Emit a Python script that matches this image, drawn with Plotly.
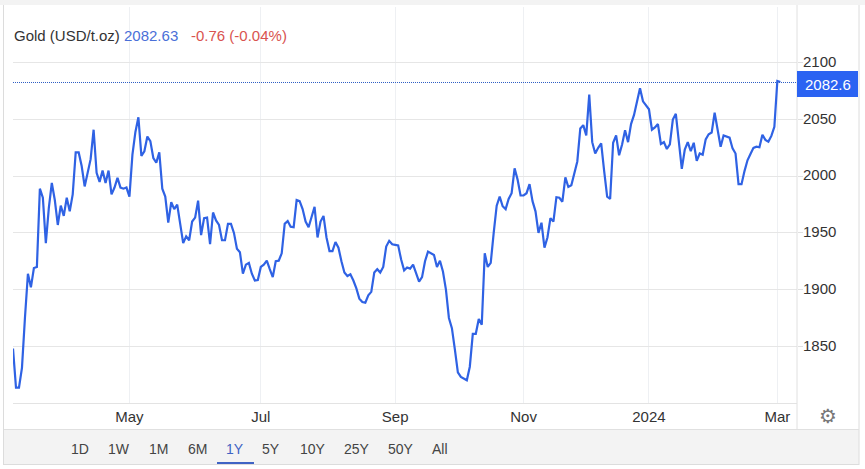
import pandas as pd
import plotly.graph_objects as go

W, H = 865, 469
L, R, T, B = 13, 797, 7, 403

SERIES_NAME = "Gold (USD/t.oz)"
LAST_TEXT = "2082.63"
CHANGE_TEXT = "-0.76 (-0.04%)"
LAST_VALUE = 2082.63
LAST_LABEL = "2082.6"
START_DATE = "2023-03-07"
END_DATE = "2024-03-04"
HOLIDAYS = ["2023-12-25", "2024-01-01"]
Y_TICKS = [1850, 1900, 1950, 2000, 2050, 2100]
X_TICKS = ["2023-05-01", "2023-06-30", "2023-09-01", "2023-11-01", "2024-01-02", "2024-03-01"]
X_LABELS = ["May", "Jul", "Sep", "Nov", "2024", "Mar"]
RANGE_BUTTONS = ["1D", "1W", "1M", "6M", "1Y", "5Y", "10Y", "25Y", "50Y", "All"]
BUTTON_X = [80, 119, 158, 197, 235, 271, 313, 357, 401, 440]

prices = [
    1848, 1813.5, 1813.5, 1831, 1875, 1914, 1902, 1919, 1920, 1989,
    1981, 1941, 1972, 1994, 1979, 1957, 1974, 1965, 1981, 1969,
    1984, 2021, 2021, 2009, 1991, 2003, 2015, 2041, 2003, 1995,
    2005, 1994, 2005, 1984, 1990, 1998.5, 1990, 1989, 1990, 1982,
    2019, 2039, 2052, 2018, 2022, 2035, 2031, 2016, 2012, 2021,
    1989, 1982, 1959, 1977, 1971, 1975, 1957, 1941, 1947, 1943.5,
    1960, 1963.5, 1978.5, 1948, 1963, 1963.5, 1940, 1968, 1961, 1957,
    1943.5, 1943.5, 1958, 1958, 1950, 1936, 1933, 1914, 1922, 1923.5,
    1914, 1908, 1908.5, 1920, 1922, 1925.5, 1918, 1911, 1925, 1925.5,
    1932, 1958, 1960.5, 1955.5, 1955, 1979, 1978, 1971, 1960, 1955,
    1964, 1973, 1946, 1960, 1965, 1946, 1934, 1934, 1942, 1937,
    1925, 1915, 1912, 1913.5, 1908, 1901, 1892, 1889, 1888.5, 1895,
    1898, 1915, 1918, 1915, 1920, 1938, 1943, 1940, 1939.5, 1939,
    1926.5, 1917, 1919.5, 1918.5, 1922, 1914, 1907, 1911, 1925, 1933.5,
    1932, 1930.5, 1920, 1925.5, 1916, 1900, 1875, 1866, 1847, 1827,
    1823, 1821.5, 1820, 1832, 1861, 1861, 1874, 1869, 1932, 1920,
    1923.5, 1950, 1974, 1982, 1973.5, 1971, 1980, 1985, 2007, 1997,
    1983, 1983, 1985, 1993, 1978, 1969, 1950, 1959, 1937, 1946,
    1963, 1960, 1981.5, 1981, 1977.5, 1999, 1990.5, 1992, 2001.5, 2013,
    2042, 2045, 2036, 2072, 2030, 2020, 2025, 2029, 2004.5, 1982,
    1980, 2029.5, 2036, 2018.5, 2028, 2040.5, 2030, 2046, 2054, 2067,
    2077.5, 2066, 2062, 2059, 2041, 2043, 2046, 2028.5, 2030, 2024,
    2028, 2050, 2055, 2031, 2006.5, 2023.5, 2030, 2022, 2029.5, 2013.5,
    2020, 2019, 2032.5, 2037, 2038.5, 2056, 2040, 2026, 2036, 2035,
    2034, 2024.5, 2020, 1993, 1993, 2004.5, 2014, 2019.5, 2025, 2026,
    2025.5, 2036.5, 2032, 2030.5, 2035.5, 2043.5, 2084, 2083,
]

dates = [d for d in pd.bdate_range(START_DATE, END_DATE) if d.strftime("%Y-%m-%d") not in HOLIDAYS]
y_per_px = 1 / 1.134
y_top = 1800 + (B - T) * y_per_px


def px(x):
    return (x - L) / (R - L)


def py(y):
    return (B - y) / (B - T)


def rect(x0, y0, x1, y1, fill, layer="below"):
    return dict(type="rect", xref="paper", yref="paper", x0=px(x0), x1=px(x1), y0=py(y0), y1=py(y1),
                fillcolor=fill, line_width=0, layer=layer)


def line(x0, y0, x1, y1, color, width=1):
    return dict(type="line", xref="paper", yref="paper", x0=px(x0), x1=px(x1), y0=py(y0), y1=py(y1),
                line=dict(color=color, width=width))


def label(x, y, text, color, size=14, anchor="left", family="Liberation Sans"):
    return dict(xref="paper", yref="paper", x=px(x), y=py(y), text=text, showarrow=False, xanchor=anchor,
                yanchor="middle", borderpad=0, font=dict(family=family, size=size, color=color))


fig = go.Figure(go.Scatter(x=dates, y=prices[:len(dates)], mode="lines",
                           line=dict(color="#2f62e4", width=2.2), hoverinfo="skip"))

shapes = [
    rect(0, 0, 865, 5, "#f3f3f3"),
    rect(4, 430, 859, 464, "#f3f3f3"),
    line(3.5, 5, 3.5, 465, "#dcdcdc"),
    line(859, 5, 859, 465, "#dcdcdc"),
    line(4, 429.5, 859, 429.5, "#e0e0e0"),
    line(4, 464.5, 859, 464.5, "#dcdcdc"),
    line(R, 5, R, 430, "#e0e0e0"),
    line(217, 463, 254, 463, "#3f63c4", 2),
    dict(type="line", xref="paper", yref="y", x0=0, x1=1, y0=LAST_VALUE, y1=LAST_VALUE,
         line=dict(color="#2f5fc4", width=1, dash="1px,1px"), layer="above"),
    rect(R, 71, 858, 97, "#2b63f2", "above"),
]

annotations = [
    label(13, 36, SERIES_NAME, "#333333", 15),
    label(123, 36, LAST_TEXT, "#4a6fd8", 15),
    label(190, 36, CHANGE_TEXT, "#d9534f", 15),
    label(828, 84.5, LAST_LABEL, "#ffffff", 15, "center"),
    label(828, 416, "\u2699", "#777777", 20, "center", "DejaVu Sans"),
]
for name, x in zip(RANGE_BUTTONS, BUTTON_X):
    annotations.append(label(x, 449, name, "#3f63c4" if name == "1Y" else "#444444", 14, "center"))

fig.update_layout(
    width=W, height=H, autosize=False,
    margin=dict(l=L, r=W - R, t=T, b=H - B, pad=0),
    paper_bgcolor="#ffffff", plot_bgcolor="#ffffff", showlegend=False,
    shapes=shapes, annotations=annotations,
    xaxis=dict(
        type="date", range=["2023-03-07", "2024-03-11 14:00"],
        rangebreaks=[dict(bounds=["sat", "mon"]), dict(values=HOLIDAYS)],
        tickmode="array", tickvals=X_TICKS, ticktext=X_LABELS, ticks="", ticklen=0,
        showgrid=True, gridcolor="#eef0f3", gridwidth=1, showline=True, linecolor="#e3e3e3",
        tickfont=dict(family="Liberation Sans", size=15, color="#333333"), zeroline=False,
    ),
    yaxis=dict(
        range=[1800, y_top], side="right", tickmode="array", tickvals=Y_TICKS,
        ticks="outside", ticklen=5, tickcolor="#e0e0e0", showgrid=True, gridcolor="#e6e6e6", gridwidth=1,
        ticklabelstandoff=-3, ticklabelshift=-1,
        tickfont=dict(family="Liberation Sans", size=15, color="#333333"), zeroline=False,
    ),
)

fig.write_html("out.html", config=dict(displayModeBar=False),
               post_script="document.body.style.margin='0';")
